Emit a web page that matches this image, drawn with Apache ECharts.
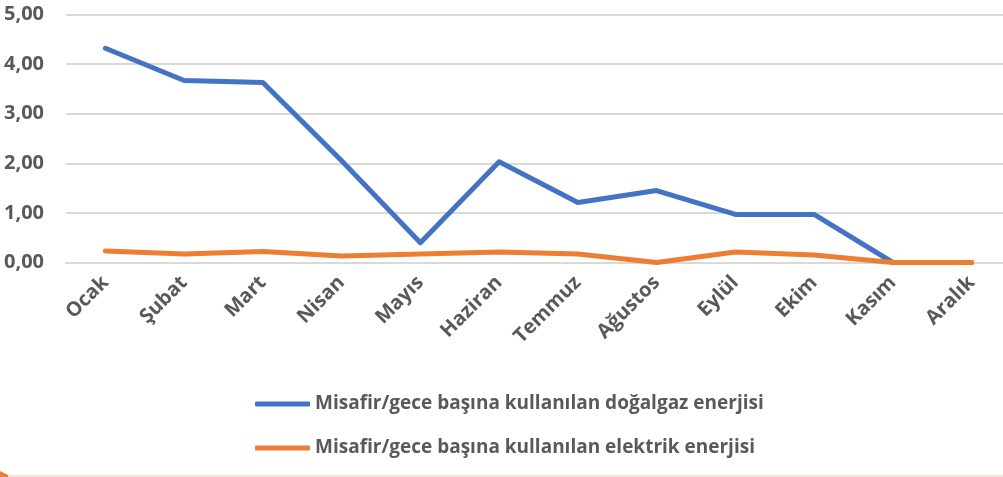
<!DOCTYPE html>
<html>
<head>
<meta charset="utf-8">
<script src="https://cdn.jsdelivr.net/npm/echarts@6/dist/echarts.min.js"></script>
<style>
  html, body { margin: 0; padding: 0; background: #fff; }
  #chart { width: 1003px; height: 477px; }
</style>
</head>
<body>
<div id="chart"></div>
<script>
// aylar
const months = ['Ocak', 'Şubat', 'Mart', 'Nisan', 'Mayıs', 'Haziran', 'Temmuz', 'Ağustos', 'Eylül', 'Ekim', 'Kasım', 'Aralık']
// doğalgaz enerjisi
const gasValues = [4.32, 3.67, 3.63, 2.05, 0.40, 2.03, 1.21, 1.45, 0.97, 0.97, 0.00, 0.00]
// elektrik enerjisi
const elecValues = [0.23, 0.17, 0.22, 0.13, 0.17, 0.21, 0.17, 0.00, 0.21, 0.15, 0.00, 0.00]
const seriesNames = ['Misafir/gece başına kullanılan doğalgaz enerjisi', 'Misafir/gece başına kullanılan elektrik enerjisi']

const textColor = '#595959'
const fontFamily = '"Open Sans", "Noto Sans", sans-serif'

const myChart = echarts.init(document.getElementById('chart'))
myChart.setOption({
  color: ['#4472C4', '#ED7D31'],
  animation: false,
  grid: {
    left: 66,
    right: -8,
    top: 14.5,
    bottom: 214.5,
    containLabel: false,
    outerBoundsMode: 'none'
  },
  legend: {
    orient: 'vertical',
    left: 250,
    top: 386,
    itemWidth: 55,
    itemHeight: 5,
    itemGap: 18,
    icon: 'roundRect',
    textStyle: {
      color: textColor,
      fontFamily: fontFamily,
      fontWeight: 'bold',
      fontSize: 19,
      lineHeight: 26
    },
    data: seriesNames
  },
  xAxis: {
    type: 'category',
    data: months,
    boundaryGap: true,
    axisLine: {show: true, lineStyle: {color: '#D9D9D9', width: 2}},
    axisTick: {show: false},
    axisLabel: {
      rotate: 45,
      margin: 17,
      interval: 0,
      color: textColor,
      fontFamily: fontFamily,
      fontWeight: 'bold',
      fontSize: 20
    }
  },
  yAxis: {
    type: 'value',
    min: 0,
    max: 5,
    interval: 1,
    axisLine: {show: false},
    axisTick: {show: false},
    splitLine: {lineStyle: {color: '#D9D9D9', width: 2}},
    axisLabel: {
      margin: 22,
      color: textColor,
      fontFamily: fontFamily,
      fontWeight: 'bold',
      fontSize: 20,
      formatter: function (v) {
        return v.toFixed(2).replace('.', ',')
      }
    }
  },
  series: [
    {
      name: seriesNames[0],
      type: 'line',
      data: gasValues,
      symbol: 'none',
      lineStyle: {width: 5, cap: 'round', join: 'round'}
    },
    {
      name: seriesNames[1],
      type: 'line',
      data: elecValues,
      symbol: 'none',
      lineStyle: {width: 5, cap: 'round', join: 'round'}
    }
  ],
  graphic: [
    {
      type: 'rect',
      shape: {x: 0, y: 475, width: 1003, height: 2},
      style: {fill: '#FBE3D4'}
    },
    {
      type: 'polygon',
      shape: {points: [[0, 471], [8, 475], [8, 477], [0, 477]]},
      style: {fill: '#ED7D31'}
    }
  ]
})
</script>
</body>
</html>
